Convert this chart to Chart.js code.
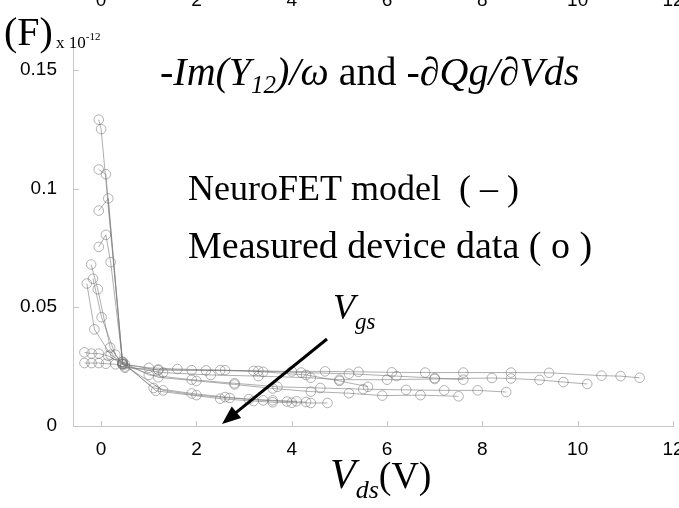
<!DOCTYPE html>
<html>
<head>
<meta charset="utf-8">
<script src="https://cdn.jsdelivr.net/npm/chart.js@4.4.0/dist/chart.umd.min.js"></script>
<style>
  html, body { margin: 0; padding: 0; background: #fff; overflow: hidden; }
  #wrap { position: absolute; left: 0; top: 0; width: 679px; height: 508px; }
</style>
</head>
<body>
<div id="wrap"><canvas id="myChart" width="679" height="508"></canvas></div>
<script>
// tick values (V and F x 10^-12)
const vdsTicks = [0, 2, 4, 6, 8, 10, 12];
const capTicks = [0, 0.05, 0.1, 0.15];

// Cgd curves, one per Vgs: drain voltage (V) and capacitance (x 10^-12 F)
const vds1 = [-0.05, 0.0, 0.45, 1.15, 2.5, 3.2, 3.6, 4.0, 4.4, 4.75];
const cap1 = [0.129, 0.125, 0.027, 0.0148, 0.0115, 0.0105, 0.0100, 0.0098, 0.0097, 0.0097];

const vds2 = [-0.05, 0.1, 0.45, 1.3, 2.0, 2.7, 3.4, 3.9, 4.3];
const cap2 = [0.108, 0.106, 0.026, 0.0150, 0.0130, 0.0118, 0.0108, 0.0103, 0.0101];

const vds3 = [-0.05, 0.15, 0.45, 1.1, 1.9, 2.6, 3.1, 3.6, 4.1];
const cap3 = [0.0907, 0.0958, 0.0265, 0.0160, 0.0137, 0.0122, 0.0113, 0.0108, 0.0104];

const vds4 = [-0.05, 0.1, 0.2, 0.45, 1.0, 1.9, 2.8, 3.7, 4.6, 5.5, 6.4, 7.2, 7.9, 8.5];
const cap4 = [0.0754, 0.0805, 0.069, 0.027, 0.0215, 0.0195, 0.018, 0.0165, 0.016, 0.0155, 0.0152, 0.0150, 0.0150, 0.0143];

const vds5 = [-0.21, -0.07, 0.19, 0.45, 1.2, 2.0, 2.8, 3.6, 4.4, 5.2, 5.9, 6.7, 7.5];
const cap5 = [0.068, 0.0576, 0.033, 0.026, 0.0205, 0.019, 0.0175, 0.0158, 0.0145, 0.0138, 0.0128, 0.013, 0.0125];

const vds6 = [-0.17, 0.01, 0.3, 0.5, 1.3, 2.3, 3.3, 4.4, 5.0, 6.0, 7.0, 8.2, 8.6, 9.2, 9.7, 10.2];
const cap6 = [0.062, 0.0458, 0.03, 0.025, 0.0225, 0.0215, 0.021, 0.0203, 0.0195, 0.0195, 0.0198, 0.0202, 0.0200, 0.0194, 0.0185, 0.0177];

const vds7 = [-0.3, -0.14, 0.2, 0.5, 1.2, 1.9, 2.6, 3.3, 4.0, 4.7, 5.4, 6.1, 6.8, 7.6, 8.6, 9.4, 10.5, 10.9, 11.3];
const cap7 = [0.06, 0.0407, 0.03, 0.026, 0.0235, 0.0235, 0.0235, 0.0232, 0.023, 0.023, 0.0228, 0.0226, 0.0225, 0.0225, 0.0225, 0.0224, 0.0212, 0.021, 0.0203];

const vds8 = [-0.35, -0.2, -0.05, 0.15, 0.45, 1.0, 1.6, 2.5, 3.4, 4.3, 5.0, 5.6];
const cap8 = [0.031, 0.0305, 0.0305, 0.0295, 0.026, 0.0245, 0.024, 0.0235, 0.0228, 0.0215, 0.019, 0.0165];

const vds9 = [-0.35, -0.2, -0.05, 0.1, 0.3, 0.5, 1.2, 2.2, 3.2, 4.2, 5.2, 6.2, 7.0, 7.6];
const cap9 = [0.0265, 0.0265, 0.0265, 0.0262, 0.026, 0.0245, 0.0238, 0.0234, 0.0232, 0.0225, 0.022, 0.021, 0.0202, 0.0195];

const curves = [
  [vds1, cap1], [vds2, cap2], [vds3, cap3], [vds4, cap4], [vds5, cap5],
  [vds6, cap6], [vds7, cap7], [vds8, cap8], [vds9, cap9]
];

const SERIF = '"Liberation Serif", "DejaVu Serif", serif';
const SANS = '"Liberation Sans", Arial, sans-serif';

const datasets = curves.map(([xs, ys]) => ({
  data: xs.map((x, i) => ({ x: x, y: ys[i] })),
  showLine: true,
  borderColor: 'rgba(120,120,120,0.75)',
  borderWidth: 0.8,
  pointStyle: 'circle',
  pointRadius: 4.8,
  pointBorderWidth: 0.7,
  pointBorderColor: 'rgba(110,110,110,0.75)',
  pointBackgroundColor: 'rgba(0,0,0,0)',
  fill: false,
}));

// draws a run of text pieces left to right, each with its own font and shift
function drawRun(ctx, x, y, parts) {
  parts.forEach(p => {
    ctx.font = p.font;
    ctx.fillText(p.t, x, y + (p.dy || 0));
    x += ctx.measureText(p.t).width;
  });
}

const labels = {
  id: 'labels',
  afterDraw(chart) {
    const ctx = chart.ctx;
    const xs = chart.scales.x;
    const ys = chart.scales.y;
    ctx.save();

    // small inward ticks
    ctx.strokeStyle = '#c4c4c4';
    ctx.lineWidth = 1;
    vdsTicks.forEach(v => {
      const px = Math.round(xs.getPixelForValue(v)) + 0.5;
      ctx.beginPath();
      ctx.moveTo(px, ys.bottom);
      ctx.lineTo(px, ys.bottom - 5);
      ctx.stroke();
    });
    capTicks.forEach(v => {
      const py = Math.round(ys.getPixelForValue(v)) + 0.5;
      ctx.beginPath();
      ctx.moveTo(xs.left, py);
      ctx.lineTo(xs.left + 6, py);
      ctx.stroke();
    });

    // top axis numbers, mostly cut off by the page edge
    ctx.fillStyle = '#000';
    ctx.font = '19px ' + SANS;
    ctx.textAlign = 'center';
    ctx.textBaseline = 'alphabetic';
    vdsTicks.forEach(v => ctx.fillText(String(v), xs.getPixelForValue(v), 6));

    ctx.textAlign = 'left';
    drawRun(ctx, 4, 45, [
      { t: '(F)', font: '40px ' + SERIF },
    ]);
    drawRun(ctx, 56, 48, [
      { t: 'x 10', font: '17px ' + SERIF },
      { t: '-12', font: '11px ' + SERIF, dy: -8 },
    ]);

    drawRun(ctx, 160, 85, [
      { t: '-Im(Y', font: 'italic 40px ' + SERIF },
      { t: '12', font: 'italic 25px ' + SERIF, dy: 8 },
      { t: ')/\u03c9', font: 'italic 40px ' + SERIF },
      { t: ' and ', font: '40px ' + SERIF },
      { t: '-\u2202Qg/\u2202Vds', font: 'italic 40px ' + SERIF },
    ]);

    ctx.font = '36px ' + SERIF;
    ctx.fillText('NeuroFET model  ( \u2013 )', 188, 200);
    ctx.font = '38px ' + SERIF;
    ctx.fillText('Measured device data ( o )', 188, 258);

    drawRun(ctx, 333, 319, [
      { t: 'V', font: 'italic 36px ' + SERIF },
      { t: 'gs', font: 'italic 23px ' + SERIF, dy: 10 },
    ]);

    drawRun(ctx, 330, 488, [
      { t: 'V', font: 'italic 42px ' + SERIF },
      { t: 'ds', font: 'italic 26px ' + SERIF, dy: 10 },
      { t: '(V)', font: '38px ' + SERIF },
    ]);

    // Vgs arrow
    const ax0 = 327, ay0 = 339, ax1 = 222, ay1 = 424;
    const ang = Math.atan2(ay1 - ay0, ax1 - ax0);
    ctx.strokeStyle = '#000';
    ctx.lineWidth = 3;
    ctx.beginPath();
    ctx.moveTo(ax0, ay0);
    ctx.lineTo(ax1 - 14 * Math.cos(ang), ay1 - 14 * Math.sin(ang));
    ctx.stroke();
    ctx.fillStyle = '#000';
    ctx.beginPath();
    ctx.moveTo(ax1, ay1);
    ctx.lineTo(ax1 - 20 * Math.cos(ang - 0.38), ay1 - 20 * Math.sin(ang - 0.38));
    ctx.lineTo(ax1 - 20 * Math.cos(ang + 0.38), ay1 - 20 * Math.sin(ang + 0.38));
    ctx.closePath();
    ctx.fill();

    ctx.restore();
  }
};

const config = {
  type: 'scatter',
  data: { datasets: datasets },
  options: {
    responsive: false,
    animation: false,
    devicePixelRatio: 1,
    layout: { padding: { left: 0, right: 6, top: 46, bottom: 0 } },
    plugins: {
      legend: { display: false },
      tooltip: { enabled: false },
      title: { display: false },
    },
    scales: {
      x: {
        type: 'linear',
        min: -0.59,
        max: 12,
        // let the last label run past the plot edge
        afterFit: s => { s.height = 82; s.paddingLeft = 0; s.paddingRight = 0; },
        afterBuildTicks: s => { s.ticks = vdsTicks.map(v => ({ value: v })); },
        grid: { display: false, drawTicks: false },
        border: { color: '#c8c8c8', width: 1 },
        ticks: { font: { family: SANS, size: 19 }, color: '#000', padding: 12, maxRotation: 0 },
      },
      y: {
        type: 'linear',
        min: 0,
        max: 0.16,
        afterFit: s => { s.width = 73; s.paddingTop = 0; s.paddingBottom = 0; },
        afterBuildTicks: s => { s.ticks = capTicks.map(v => ({ value: v })); },
        grid: { display: false, drawTicks: false },
        border: { color: '#c8c8c8', width: 1 },
        ticks: {
          font: { family: SANS, size: 19 },
          color: '#000',
          padding: 16,
          callback: v => String(v),
        },
      },
    },
  },
  plugins: [labels],
};

new Chart(document.getElementById('myChart'), config);
</script>
</body>
</html>
